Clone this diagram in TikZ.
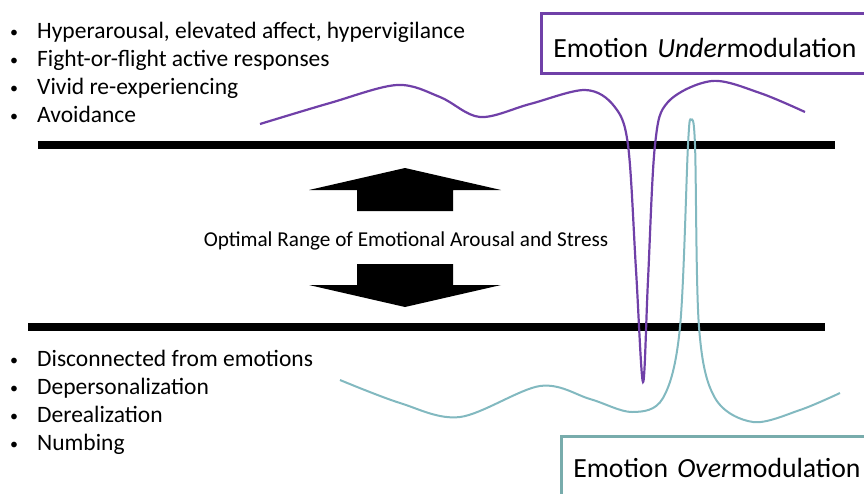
\documentclass[tikz,border=0pt]{standalone}
\usepackage{fontspec}
\setmainfont{Carlito}
\usepackage{tikz}
\usetikzlibrary{positioning, calc}
\definecolor{underpurple}{RGB}{112,64,168}
\definecolor{overteal}{RGB}{130,185,192}
\definecolor{overbox}{RGB}{120,172,172}

\begin{document}
\begin{tikzpicture}[
    x=1pt, y=-1pt,
    item/.style={anchor=base west, inner sep=0pt,
                 font=\fontsize{23.5}{26}\selectfont,
                 execute at begin node={\makebox[27pt][l]{%
                   \raisebox{1pt}{\fontsize{16}{16}\selectfont\textbullet}}}},
    bar/.style={line width=8pt},
    modbox/.style={draw, line width=2.5pt, anchor=north west,
                   inner xsep=12pt, inner ysep=0pt, align=left,
                   text width=330pt, font=\fontsize{27.7}{30}\selectfont},
    undercurve/.style={underpurple, line width=2.2pt},
    overcurve/.style={overteal, line width=2pt},
    midlabel/.style={font=\fontsize{21.2}{24}\selectfont, inner sep=0pt},
    blockarrow/.pic={\fill (0,-22) -- (96,0) -- (48,0) -- (48,21)
                     -- (-48,21) -- (-48,0) -- (-96,0) -- cycle;},
  ]
  \useasboundingbox (0,0) rectangle (864,493);

  % Symptom lists
  \foreach \txt [count=\i] in {{Hyperarousal, elevated affect, hypervigilance},
      {Fight-or-flight active responses}, {Vivid re-experiencing}, {Avoidance}}
    \node[item] (hyper\i) at (10, 10+28*\i) {\txt};
  \foreach \txt [count=\i] in {{Disconnected from emotions},
      {Depersonalization}, {Derealization}, {Numbing}}
    \node[item] (hypo\i) at (10, 338+28*\i) {\txt};

  % Window limits
  \coordinate (topL) at (38,145);
  \coordinate (topR) at (835,145);
  \coordinate (botL) at (28,327);
  \coordinate (botR) at (825,327);
  \draw[bar] (topL) -- (topR);
  \draw[bar] (botL) -- (botR);

  % Optimal range
  \node[midlabel] (range) at (406,241) {Optimal Range of Emotional Arousal and Stress};
  \pic at (405,190) {blockarrow};
  \pic[yscale=-1] at (405,285) {blockarrow};

  % Modulation boxes
  \node[modbox, draw=underpurple, minimum height=60pt,
        text height=28pt, text depth=0pt] (under) at (540,12)
        {Emotion \textit{Under}modulation};
  \node[modbox, draw=overbox, minimum height=90pt,
        text height=20pt, text depth=28pt] (over) at (560,435)
        {Emotion \textit{Over}modulation};

  % Arousal curves
  \draw[undercurve] plot[smooth, tension=0.55] coordinates {
    (260,124) (330,103) (397,85) (440,97) (480,117) (530,104) (585,90)
    (614,106) (628,145) (636,270) (643,382) (648,280) (655,145)
    (668,102) (712,81) (760,93) (805,112)};
  \draw[overcurve] plot[smooth, tension=0.55] coordinates {
    (340,380) (400,403) (460,417) (540,386) (590,399) (632,412)
    (663,398) (680,327) (688,145) (691,120) (695,145) (699,327)
    (715,398) (753,422) (800,410) (840,393)};
\end{tikzpicture}
\end{document}
